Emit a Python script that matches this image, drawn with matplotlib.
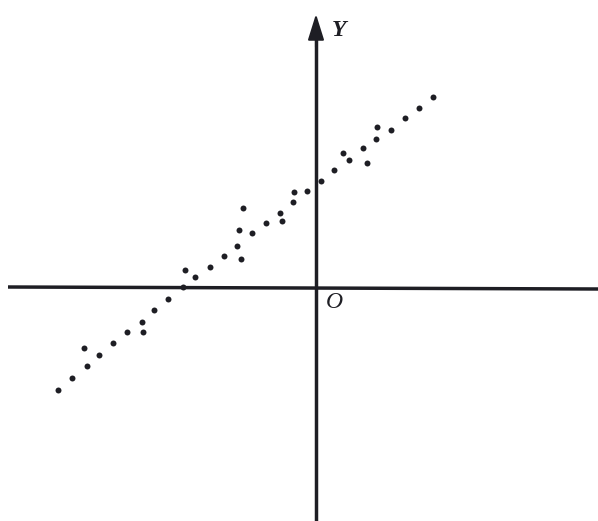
import matplotlib
matplotlib.use("Agg")
import matplotlib.pyplot as plt

# scatter points (x, y), origin at the axes crossing
x = [-25.8, -24.4, -22.9, -23.2, -21.7, -20.3, -18.9, -17.3, -17.4, -16.2,
     -14.8, -13.3, -13.1, -12.1, -10.6, -9.2, -7.5, -7.9, -7.7, -7.3,
     -6.4, -5.0, -3.6, -3.4, -2.3, -2.2, -0.9, 0.5, 1.8, 2.7,
     3.3, 4.7, 5.1, 6.0, 6.1, 7.5, 8.9, 10.3, 11.7]
y = [-10.3, -9.1, -7.9, -6.1, -6.8, -5.6, -4.5, -4.5, -3.5, -2.3,
     -1.2, 0.0, 1.7, 1.0, 2.0, 3.1, 2.8, 4.1, 5.7, 7.9,
     5.4, 6.4, 7.4, 6.6, 8.5, 9.5, 9.6, 10.6, 11.7, 13.4,
     12.7, 13.9, 12.4, 14.8, 16.0, 15.7, 16.9, 17.9, 19.0]

ink = "#1e1e24"

fig = plt.figure(figsize=(5.98, 5.21), dpi=100)
ax = fig.add_axes([0, 0, 1, 1])
ax.set_xlim(-31.6, 28.2)
ax.set_ylim(-23.4, 28.7)
ax.axis("off")

# x axis (slightly skewed like a scanned page) and y axis with arrow
ax.plot([-30.8, 28.2], [0.0, -0.2], color=ink, lw=2.5, solid_capstyle="butt")
ax.plot([0.0, 0.0], [-23.4, 25.0], color=ink, lw=2.5, solid_capstyle="butt")
ax.annotate("", xy=(0.0, 27.3), xytext=(0.0, 24.0),
            arrowprops=dict(arrowstyle="-|>,head_length=1.6,head_width=0.5",
                            color=ink, lw=1.5, shrinkA=0, shrinkB=0))

ax.plot(x, y, "o", color=ink, ms=4.3, mec="none")

ax.text(1.6, 25.6, "Y", fontsize=17, family="Liberation Serif", style="italic",
        fontweight="bold", color=ink, ha="left", va="center")
ax.text(1.0, -1.5, "O", fontsize=17, family="Liberation Serif", style="italic",
        color=ink, ha="left", va="center")

fig.savefig("out.png", dpi=100)
